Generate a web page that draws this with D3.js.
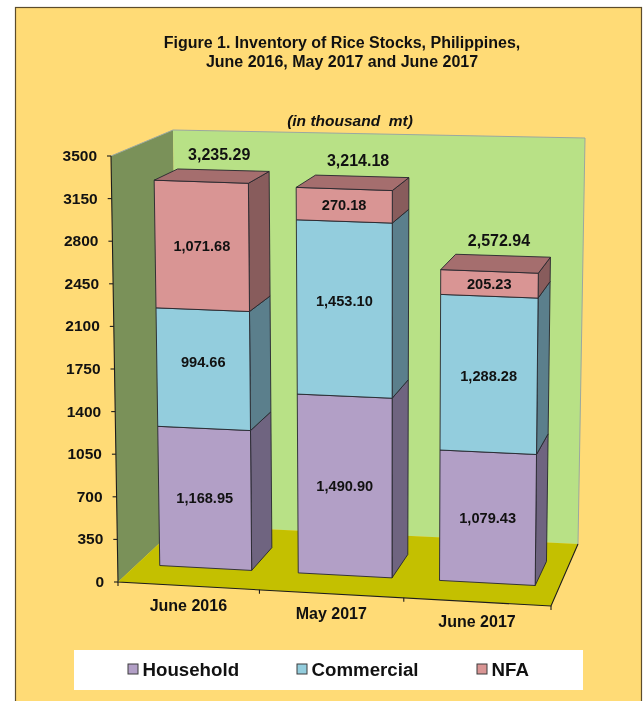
<!DOCTYPE html>
<html>
<head>
<meta charset="utf-8">
<script src="https://cdnjs.cloudflare.com/ajax/libs/d3/7.8.5/d3.min.js"></script>
<style>
  html, body { margin: 0; padding: 0; background: #fff; overflow: hidden; }
  svg { display: block; filter: blur(0.45px); }
  text { font-family: "Liberation Sans", Arial, sans-serif; font-weight: bold; fill: #111; }
</style>
</head>
<body>
<div id="chart"></div>
<script>
const categories = ['June 2016', 'May 2017', 'June 2017'];
const household = [1168.95, 1490.90, 1079.43];
const commercial = [994.66, 1453.10, 1288.28];
const nfa = [1071.68, 270.18, 205.23];
const totals = [3235.29, 3214.18, 2572.94];
const yTicks = [0, 350, 700, 1050, 1400, 1750, 2100, 2450, 2800, 3150, 3500];
const seriesNames = ['Household', 'Commercial', 'NFA'];

const colors = {
  Household: { front: '#b29fc6', side: '#6f6480' },
  Commercial: { front: '#93cddd', side: '#5b7f8c' },
  NFA: { front: '#d99594', side: '#885c5c', top: '#a56e6e' }
};

const width = 643;
const height = 701;

const svg = d3.select('#chart').append('svg')
  .attr('width', width)
  .attr('height', height);

// corners of the 3d box on screen, [bottom, top] for each of front / back, left / right
const box = {
  frontLeft: [[118, 582], [111, 156]],
  frontRight: [[551, 606], [555, 172]],
  backLeft: [[179, 525], [173, 130]],
  backRight: [[578, 544], [585, 138]]
};

const mix = (a, b, t) => [a[0] + (b[0] - a[0]) * t, a[1] + (b[1] - a[1]) * t];

const xBand = d3.scaleBand().domain(categories).range([0, 1]).paddingInner(0.334).paddingOuter(0.167);
const yValue = d3.scaleLinear().domain([0, 3500]).range([0, 1]);
const barDepth = [0.31, 0.70];

// u across, value up, d into the picture
const project = (uRaw, value, d) => {
  // small perspective stretch towards the right hand side
  const u = uRaw - 0.03 * uRaw * (1 - uRaw);
  const v = yValue(value);
  const front = mix(mix(box.frontLeft[0], box.frontRight[0], u), mix(box.frontLeft[1], box.frontRight[1], u), v);
  const back = mix(mix(box.backLeft[0], box.backRight[0], u), mix(box.backLeft[1], box.backRight[1], u), v);
  return mix(front, back, d);
};

const poly = d3.line().curve(d3.curveLinearClosed);

// page background and frame
svg.append('rect')
  .attr('x', 15.5).attr('y', 7.5)
  .attr('width', 626).attr('height', 720)
  .attr('fill', '#ffdb76')
  .attr('stroke', '#5c4c2c')
  .attr('stroke-width', 1.2);

// walls and floor
svg.append('path')
  .attr('d', poly([project(0, 0, 0), project(0, 3500, 0), project(0, 3500, 1), project(0, 0, 1)]))
  .attr('fill', '#7a9159');
svg.append('path')
  .attr('d', poly([project(0, 0, 1), project(0, 3500, 1), project(1, 3500, 1), project(1, 0, 1)]))
  .attr('fill', '#b8e186');
svg.append('path')
  .attr('d', d3.line()([project(0, 3500, 0), project(0, 3500, 1), project(1, 3500, 1), project(1, 0, 1)]))
  .attr('fill', 'none').attr('stroke', '#9aa8a0').attr('stroke-width', 1);
svg.append('path')
  .attr('d', poly([project(0, 0, 0), project(1, 0, 0), project(1, 0, 1), project(0, 0, 1)]))
  .attr('fill', '#c4c000');

// axis lines
const axisColor = '#1c1c1c';
svg.append('path')
  .attr('d', d3.line()([project(0, 3500, 0), project(0, 0, 0), project(1, 0, 0), project(1, 0, 1)]))
  .attr('fill', 'none').attr('stroke', axisColor).attr('stroke-width', 1.1);

const yPixel = d3.scaleLinear().domain([0, 3500]).range([582, 156]);
const yAxisG = svg.append('g')
  .call(d3.axisLeft(yPixel).tickValues(yTicks).tickSize(4).tickPadding(10).tickFormat(d3.format('d')));
yAxisG.select('.domain').remove();
yAxisG.attr('font-size', null).attr('font-family', null);
yAxisG.selectAll('.tick')
  .attr('transform', d => `translate(${project(0, d, 0)})`);
yAxisG.selectAll('.tick line').attr('stroke', axisColor).attr('stroke-width', 1.1);
yAxisG.selectAll('.tick text').attr('font-size', 15.5).style('fill', '#111');

svg.selectAll('.x-tick').data([0, 1 / 3, 2 / 3, 1])
  .enter().append('line')
    .attr('class', 'x-tick')
    .attr('x1', d => project(d, 0, 0)[0])
    .attr('y1', d => project(d, 0, 0)[1])
    .attr('x2', d => project(d, 0, 0)[0])
    .attr('y2', d => project(d, 0, 0)[1] + 4)
    .attr('stroke', axisColor).attr('stroke-width', 1.1);

svg.selectAll('.x-label').data(categories)
  .enter().append('text')
    .attr('class', 'x-label')
    .attr('text-anchor', 'middle')
    .attr('font-size', 16)
    .attr('x', d => project(xBand(d) + xBand.bandwidth() / 2, 0, 0)[0])
    .attr('y', d => project(xBand(d) + xBand.bandwidth() / 2, 0, 0)[1] + 25.5)
    .text(d => d);

// bars
const table = categories.map((c, i) => ({ category: c, Household: household[i], Commercial: commercial[i], NFA: nfa[i] }));
const stacked = d3.stack().keys(seriesNames)(table);
const edge = '#26262e';
const [d0, d1] = barDepth;

categories.forEach((c, i) => {
  const u0 = xBand(c);
  const u1 = u0 + xBand.bandwidth();
  const g = svg.append('g').attr('class', 'bar');
  stacked.forEach(layer => {
    const [low, high] = layer[i];
    const col = colors[layer.key];
    g.append('path')
      .attr('d', poly([project(u1, low, d0), project(u1, high, d0), project(u1, high, d1), project(u1, low, d1)]))
      .attr('fill', col.side).attr('stroke', edge).attr('stroke-width', 0.9);
    g.append('path')
      .attr('d', poly([project(u0, low, d0), project(u0, high, d0), project(u1, high, d0), project(u1, low, d0)]))
      .attr('fill', col.front).attr('stroke', edge).attr('stroke-width', 0.9);
    if (layer.key === 'NFA') {
      g.append('path')
        .attr('d', poly([project(u0, high, d0), project(u0, high, d1), project(u1, high, d1), project(u1, high, d0)]))
        .attr('fill', col.top).attr('stroke', edge).attr('stroke-width', 0.9);
    }
  });
});

// value labels, the commercial ones do not sit quite in the middle of the segment
const commercialNudge = [-7, -8, 2];
const fmt = d3.format(',.2f');
stacked.forEach(layer => {
  svg.selectAll('.value-' + layer.key).data(layer)
    .enter().append('text')
      .attr('class', 'value-' + layer.key)
      .attr('text-anchor', 'middle')
      .attr('font-size', 14.6)
      .attr('x', (d, i) => project(xBand(categories[i]) + xBand.bandwidth() / 2, (d[0] + d[1]) / 2, d0)[0])
      .attr('y', (d, i) => project(xBand(categories[i]) + xBand.bandwidth() / 2, (d[0] + d[1]) / 2, d0)[1] + 5
        + (layer.key === 'Commercial' ? commercialNudge[i] : 0))
      .text(d => fmt(d[1] - d[0]));
});

svg.selectAll('.total').data(totals)
  .enter().append('text')
    .attr('class', 'total')
    .attr('text-anchor', 'middle')
    .attr('font-size', 16)
    .attr('x', (d, i) => project(xBand(categories[i]) + xBand.bandwidth() / 2, d, d1)[0] - 4)
    .attr('y', (d, i) => project(xBand(categories[i]) + xBand.bandwidth() / 2, d, d1)[1] - 10)
    .text(d => fmt(d));

// titles
svg.append('text')
  .attr('x', 342).attr('y', 47.5)
  .attr('text-anchor', 'middle').attr('font-size', 16)
  .text('Figure 1. Inventory of Rice Stocks, Philippines,');
svg.append('text')
  .attr('x', 342).attr('y', 66.5)
  .attr('text-anchor', 'middle').attr('font-size', 16)
  .text('June 2016, May 2017 and June 2017');
svg.append('text')
  .attr('x', 350).attr('y', 126)
  .attr('text-anchor', 'middle').attr('font-size', 15.5).attr('font-style', 'italic')
  .text('(in thousand\u00a0 mt)');

// legend
const legend = svg.append('g');
legend.append('rect')
  .attr('x', 74).attr('y', 650)
  .attr('width', 509).attr('height', 40)
  .attr('fill', '#fff');
const legendX = d3.scaleOrdinal().domain(seriesNames).range([128, 297, 477]);
const items = legend.selectAll('.legend-item').data(seriesNames)
  .enter().append('g')
    .attr('class', 'legend-item')
    .attr('transform', d => `translate(${legendX(d)},664)`);
items.append('rect')
  .attr('width', 10).attr('height', 10)
  .attr('fill', d => colors[d].front)
  .attr('stroke', '#3c3c3c').attr('stroke-width', 1);
items.append('text')
  .attr('x', 14.5).attr('y', 11.5)
  .attr('font-size', 18.7)
  .text(d => d);
</script>
</body>
</html>
